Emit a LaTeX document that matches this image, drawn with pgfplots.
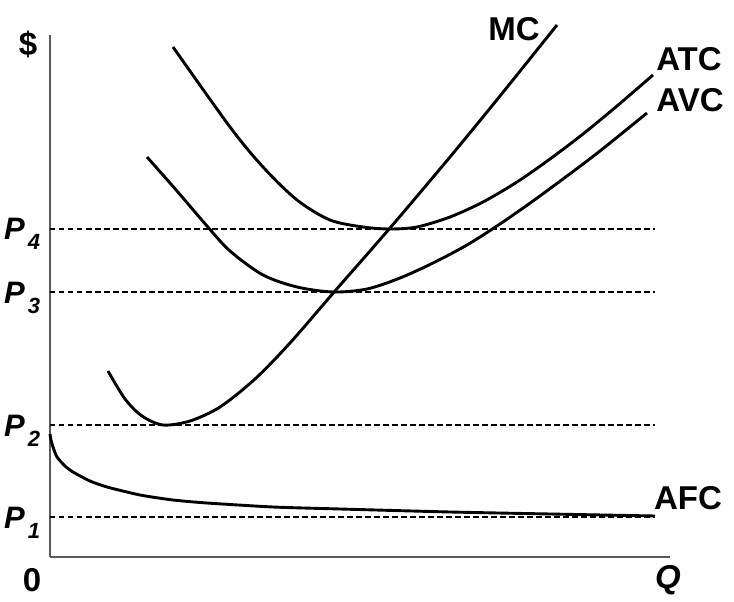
\documentclass[border=0pt]{standalone}
\usepackage{pgfplots}
\pgfplotsset{compat=1.18}
\usepackage{fontspec}
\setmainfont{Liberation Sans}
\begin{document}
\begin{tikzpicture}
\begin{axis}[
  scale only axis, width=620pt, height=522pt,
  xmin=0, xmax=620, ymin=0, ymax=522,
  axis lines=left, axis line style={-, line width=1.8pt, color=black!65},
  xtick=\empty, ytick=\empty, clip=false,
  curve/.style={black, solid, line width=2.9pt, no marks, smooth, tension=0.5},
  dashline/.style={black, line width=1.2pt, no marks, dash pattern=on 5.5pt off 3.5pt},
]
% dashed price levels
\addplot[dashline] coordinates {(0,328) (605,328)};
\addplot[dashline] coordinates {(0,265) (605,265)};
\addplot[dashline] coordinates {(0,132) (605,132)};
\addplot[dashline] coordinates {(0,40) (605,40)};
% MC
\addplot[curve] coordinates {
(58,186) (75,158) (92,141) (113,132) (140,136) (170,150) (205,178) (240,214) (285,266) (340,329) (400,400) (450,461) (507,532)};
% ATC
\addplot[curve] coordinates {
(123,510) (180,430) (213,390) (247,357) (280,337) (313,330) (340,328) (367,330) (400,340) (433,355) (467,375) (500,398) (533,423) (567,451) (603,482)};
% AVC
\addplot[curve] coordinates {
(97,400) (127,366) (157,331) (180,306) (213,282) (247,270) (283,265) (317,268) (350,279) (383,294) (417,312) (450,333) (483,356) (517,381) (550,406) (597,444)};
% AFC
\addplot[curve, tension=0.4] coordinates {
(0,123) (1,117) (3,110) (7,100) (15,91) (23,85) (40,76) (57,70) (90,62) (123,57) (157,54) (223,50) (290,48) (400,45) (500,43) (605,41)};
% labels
\node[font=\fontsize{33}{33}\selectfont\bfseries] at (axis cs:464,528) {MC};
\node[font=\fontsize{33}{33}\selectfont\bfseries] at (axis cs:639,498) {ATC};
\node[font=\fontsize{33}{33}\selectfont\bfseries] at (axis cs:640,457) {AVC};
\node[font=\fontsize{33}{33}\selectfont\bfseries] at (axis cs:638,59) {AFC};
\node[font=\fontsize{33}{33}\selectfont\bfseries] at (axis cs:-22,513) {\$};
\node[font=\fontsize{33}{33}\selectfont\bfseries] at (axis cs:-18,-23) {0};
\node[font=\fontsize{33}{33}\selectfont\bfseries\itshape] at (axis cs:618,-23) {Q};
\node[anchor=base west, inner sep=0pt, font=\fontsize{31}{31}\selectfont\bfseries\itshape] at (axis cs:-46,317) {P\kern3pt\raisebox{-10pt}{\fontsize{22}{22}\selectfont 4}};
\node[anchor=base west, inner sep=0pt, font=\fontsize{31}{31}\selectfont\bfseries\itshape] at (axis cs:-46,253) {P\kern3pt\raisebox{-10pt}{\fontsize{22}{22}\selectfont 3}};
\node[anchor=base west, inner sep=0pt, font=\fontsize{31}{31}\selectfont\bfseries\itshape] at (axis cs:-46,120) {P\kern3pt\raisebox{-10pt}{\fontsize{22}{22}\selectfont 2}};
\node[anchor=base west, inner sep=0pt, font=\fontsize{31}{31}\selectfont\bfseries\itshape] at (axis cs:-46,28) {P\kern3pt\raisebox{-10pt}{\fontsize{22}{22}\selectfont 1}};
\end{axis}
\pgfresetboundingbox
\path[use as bounding box] (-50pt,-45pt) rectangle (684pt,557pt);
\end{tikzpicture}
\end{document}
